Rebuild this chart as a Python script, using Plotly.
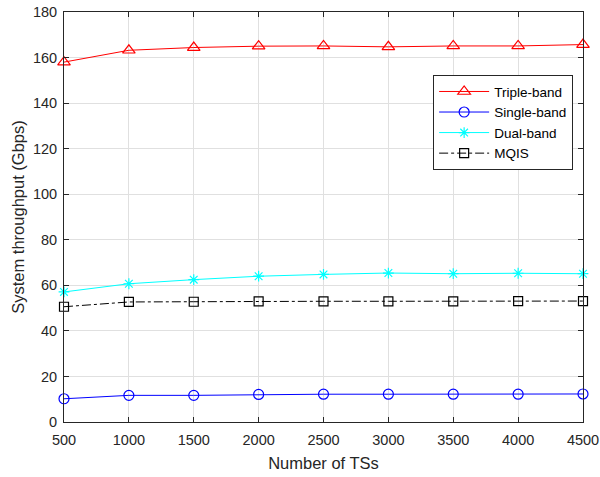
import plotly.graph_objects as go

num_ts = [500, 1000, 1500, 2000, 2500, 3000, 3500, 4000, 4500]
triple_band = [158.0, 163.2, 164.4, 165.0, 165.1, 164.7, 165.1, 165.1, 165.7]
single_band = [10.2, 11.7, 11.7, 12.1, 12.2, 12.2, 12.2, 12.2, 12.3]
dual_band = [57.1, 60.7, 62.5, 64.0, 64.8, 65.4, 65.1, 65.3, 65.1]
mqis = [50.6, 52.7, 52.8, 53.0, 53.0, 53.0, 53.0, 53.1, 53.1]

x_ticks = [500, 1000, 1500, 2000, 2500, 3000, 3500, 4000, 4500]
y_ticks = [0, 20, 40, 60, 80, 100, 120, 140, 160, 180]

FONT = "Liberation Sans, Arial, Helvetica, sans-serif"
AXC = "#262626"

fig = go.Figure()
fig.add_trace(go.Scatter(x=num_ts, y=triple_band, name="Triple-band", mode="lines+markers",
                         line=dict(color="#FF0000", width=1),
                         marker=dict(symbol="triangle-up-open", size=11, color="#FF0000", line=dict(width=1.2)),
                         cliponaxis=False))
fig.add_trace(go.Scatter(x=num_ts, y=single_band, name="Single-band", mode="lines+markers",
                         line=dict(color="#0000FF", width=1),
                         marker=dict(symbol="circle-open", size=10, color="#0000FF", line=dict(width=1.2)),
                         cliponaxis=False))
fig.add_trace(go.Scatter(x=num_ts, y=dual_band, name="Dual-band", mode="lines+markers",
                         line=dict(color="#00FFFF", width=1),
                         marker=dict(symbol="asterisk-open", size=9, color="#00FFFF", line=dict(width=1.2, color="#00FFFF")),
                         cliponaxis=False))
fig.add_trace(go.Scatter(x=num_ts, y=mqis, name="MQIS", mode="lines+markers",
                         line=dict(color="#000000", width=1, dash="dashdot"),
                         marker=dict(symbol="square-open", size=9, color="#000000", line=dict(width=1.2)),
                         cliponaxis=False))

axis_common = dict(showline=True, linecolor=AXC, linewidth=1, mirror="ticks",
                   ticks="inside", ticklen=5, tickcolor=AXC, tickwidth=1,
                   showgrid=True, gridcolor="#E0E0E0", gridwidth=1, zeroline=False,
                   automargin=False,
                   tickfont=dict(family=FONT, size=14.5, color=AXC))

fig.update_xaxes(range=[500, 4500], tickvals=x_ticks, ticktext=[str(v) for v in x_ticks],
                 ticklabelstandoff=5,
                 title=dict(text="Number of TSs", font=dict(family=FONT, size=16.5, color=AXC), standoff=10),
                 **axis_common)
fig.update_yaxes(range=[0, 180], tickvals=y_ticks, ticktext=[str(v) for v in y_ticks],
                 ticklabelstandoff=3,
                 title=dict(text="System throughput (Gbps)", font=dict(family=FONT, size=16.5, color=AXC), standoff=4),
                 **axis_common)

fig.update_layout(
    template="none",
    width=600, height=477,
    margin=dict(l=64, r=17, t=12, b=55),
    paper_bgcolor="white", plot_bgcolor="white",
    font=dict(family=FONT, color=AXC),
    legend=dict(x=0.981, xanchor="right", y=0.730, yanchor="middle",
                bgcolor="white", bordercolor=AXC, borderwidth=1,
                font=dict(family=FONT, size=13.5, color="#000000"),
                tracegroupgap=0, itemwidth=50),
    showlegend=True,
)

fig.write_html("out.html", config={"displayModeBar": False},
               post_script="document.body.style.margin='0';")
